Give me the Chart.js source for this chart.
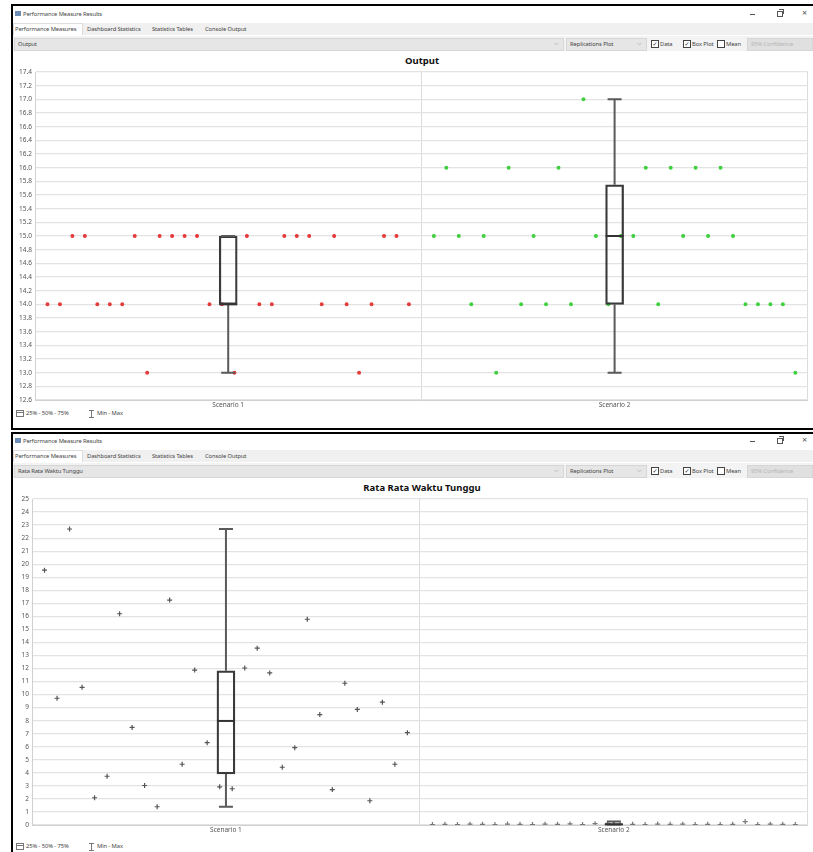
<!DOCTYPE html>
<html><head><meta charset="utf-8">
<script src="https://cdn.jsdelivr.net/npm/chart.js@4.4.0/dist/chart.umd.min.js"></script>
<style>
body{margin:0;width:813px;height:852px;position:relative;overflow:hidden;background:#fff;font-family:"Noto Sans","DejaVu Sans",sans-serif;color:#444}
.abs{position:absolute;white-space:nowrap}
.t{font-size:5.8px;line-height:8px;letter-spacing:-0.1px}
.bar{position:absolute;background:#f0f0f0}
.combo{position:absolute;background:#e6e6e6;border:1px solid #d6d6d6;height:11px}
.chk{position:absolute;width:6px;height:6px;border:1px solid #444;background:#fff;font-size:6px;line-height:6px;text-align:center;color:#222}
.ttl{position:absolute;font-weight:bold;font-size:9.5px;line-height:11px;color:#111;transform:translateX(-50%);white-space:nowrap}
canvas{position:absolute}
</style></head>
<body>
<div class="abs" style="left:11px;top:4px;width:802px;height:422px;border-left:2px solid #000;border-top:2px solid #000;border-bottom:2px solid #000"></div>
<div class="abs" style="left:11px;top:432px;width:802px;height:430px;border-left:2px solid #000;border-top:2px solid #000"></div>
<div id="chrome"></div>
<canvas id="c1" style="left:12px;top:52px" width="801" height="357"></canvas>
<canvas id="c2" style="left:12px;top:479px" width="801" height="355"></canvas>
<script>
// ---------- DATA ----------
const categories = ['Scenario 1', 'Scenario 2'];

// Chart 1: Output (30 replications per scenario)
const outputScenario1 = [14,14,15,15,14,14,14,15,13,15,15,15,15,14,14,13,15,14,14,15,15,15,14,15,14,13,14,15,15,14];
const outputScenario2 = [15,16,15,14,15,13,16,14,15,14,16,14,17,15,14,15,15,16,14,16,15,16,15,16,15,14,14,14,14,13];
const outputMin    = [13, 13];
const outputQ1     = [14, 14];
const outputMedian = [14, 15];
const outputQ3     = [15, 15.75];
const outputMax    = [15, 17];
const outputAxis   = {min: 12.6, max: 17.4, step: 0.2};

// Chart 2: Rata Rata Waktu Tunggu
const waitScenario1 = [19.54,9.72,22.7,10.56,2.09,3.74,16.2,7.48,3.03,1.40,17.25,4.66,11.88,6.31,2.93,2.78,12.04,13.56,11.66,4.43,5.93,15.78,8.47,2.72,10.87,8.86,1.86,9.42,4.66,7.08];
const waitScenario2 = [0.04,0.05,0.03,0.06,0.05,0.04,0.07,0.05,0.03,0.06,0.05,0.08,0.04,0.10,0.12,0.06,0.05,0.04,0.07,0.05,0.06,0.04,0.05,0.03,0.05,0.26,0.04,0.06,0.05,0.04];
const waitMin    = [1.40, 0.03];
const waitQ1     = [3.91, 0.04];
const waitMedian = [7.98, 0.05];
const waitQ3     = [11.83, 0.065];
const waitMax    = [22.7, 0.26];
const waitAxis   = {min: 0, max: 25, step: 1};

// ---------- CHROME ----------
function chrome(oy, comboText, chartTitle, legendY){
  let h = '';
  h += `<div class="abs" style="left:15px;top:${oy+11}px;width:6px;height:5px;background:#6b8cb5"></div>`;
  h += `<div class="abs t" style="left:23px;top:${oy+10}px">Performance Measure Results</div>`;
  h += `<div class="abs" style="left:750px;top:${oy+14}px;width:5px;height:1px;background:#555"></div>`;
  h += `<div class="abs" style="left:777px;top:${oy+11}px;width:4px;height:4px;border:1px solid #555"></div>`;
  h += `<div class="abs" style="left:779px;top:${oy+9}px;width:4px;height:4px;border-top:1px solid #555;border-right:1px solid #555"></div>`;
  h += `<div class="abs" style="left:802px;top:${oy+8}px;font-size:9px;line-height:10px;color:#555">×</div>`;
  h += `<div class="bar" style="left:13px;top:${oy+23}px;width:800px;height:12px"></div>`;
  h += `<div class="abs" style="left:13px;top:${oy+23}px;width:70px;height:12px;background:#fff;border:1px solid #ddd;border-bottom:none;box-sizing:border-box"></div>`;
  h += `<div class="abs t" style="left:15px;top:${oy+25}px">Performance Measures</div>`;
  h += `<div class="abs t" style="left:87px;top:${oy+25}px">Dashboard Statistics</div>`;
  h += `<div class="abs t" style="left:152px;top:${oy+25}px">Statistics Tables</div>`;
  h += `<div class="abs t" style="left:205px;top:${oy+25}px">Console Output</div>`;
  h += `<div class="bar" style="left:13px;top:${oy+36}px;width:800px;height:15px;background:#f3f3f3"></div>`;
  h += `<div class="combo" style="left:14px;top:${oy+38}px;width:548px"></div>`;
  h += `<div class="abs t" style="left:18px;top:${oy+40}px">${comboText}</div>`;
  h += `<div class="abs t" style="left:554px;top:${oy+39}px;color:#777">⌵</div>`;
  h += `<div class="combo" style="left:566px;top:${oy+38}px;width:79px"></div>`;
  h += `<div class="abs t" style="left:570px;top:${oy+40}px">Replications Plot</div>`;
  h += `<div class="abs t" style="left:637px;top:${oy+39}px;color:#777">⌵</div>`;
  h += `<div class="chk" style="left:651px;top:${oy+40}px">✓</div>`;
  h += `<div class="abs t" style="left:660px;top:${oy+40}px">Data</div>`;
  h += `<div class="chk" style="left:683px;top:${oy+40}px">✓</div>`;
  h += `<div class="abs t" style="left:692px;top:${oy+40}px">Box Plot</div>`;
  h += `<div class="chk" style="left:717px;top:${oy+40}px"></div>`;
  h += `<div class="abs t" style="left:726px;top:${oy+40}px">Mean</div>`;
  h += `<div class="combo" style="left:747px;top:${oy+38}px;width:64px;background:#e0e0e0"></div>`;
  h += `<div class="abs t" style="left:751px;top:${oy+40}px;color:#b5b5b5">95% Confidence</div>`;
  h += `<div class="ttl" style="left:422px;top:${oy+55}px">${chartTitle}</div>`;
  h += `<div class="abs" style="left:16px;top:${legendY-3}px;width:6px;height:5px;border:1px solid #777"></div>`;
  h += `<div class="abs" style="left:17px;top:${legendY-1}px;width:6px;height:1px;background:#777"></div>`;
  h += `<div class="abs t" style="left:26px;top:${legendY-4}px">25% - 50% - 75%</div>`;
  h += `<div class="abs" style="left:89px;top:${legendY-3}px;width:5px;height:1px;background:#777"></div>`;
  h += `<div class="abs" style="left:91px;top:${legendY-3}px;width:1px;height:7px;background:#777"></div>`;
  h += `<div class="abs" style="left:89px;top:${legendY+4}px;width:5px;height:1px;background:#777"></div>`;
  h += `<div class="abs t" style="left:97px;top:${legendY-4}px">Min - Max</div>`;
  return h;
}
document.getElementById('chrome').innerHTML =
  chrome(0, 'Output', 'Output', 413) + chrome(427, 'Rata Rata Waktu Tunggu', 'Rata Rata Waktu Tunggu', 846);

// ---------- CHARTS ----------
const boxPlugin = {
  id: 'boxWhiskers',
  afterDatasetsDraw(chart, args, opts) {
    const ctx = chart.ctx, xs = chart.scales.x, ys = chart.scales.y;
    ctx.save();
    for (let i = 0; i < opts.min.length; i++) {
      const x = xs.getPixelForValue(i);
      const yMin = ys.getPixelForValue(opts.min[i]), yQ1 = ys.getPixelForValue(opts.q1[i]);
      const yQ3 = ys.getPixelForValue(opts.q3[i]), yMax = ys.getPixelForValue(opts.max[i]);
      const yMed = ys.getPixelForValue(opts.median[i]);
      ctx.strokeStyle = '#5a5a5a'; ctx.lineWidth = 2;
      ctx.beginPath();
      ctx.moveTo(x, yQ1); ctx.lineTo(x, yMin);
      ctx.moveTo(x, yQ3); ctx.lineTo(x, yMax);
      ctx.moveTo(x - 7, yMin); ctx.lineTo(x + 7, yMin);
      ctx.moveTo(x - 7, yMax); ctx.lineTo(x + 7, yMax);
      ctx.stroke();
      ctx.strokeStyle = '#333'; ctx.lineWidth = 2;
      ctx.beginPath(); ctx.moveTo(x - 9, yMed); ctx.lineTo(x + 9, yMed); ctx.stroke();
    }
    ctx.restore();
  }
};

function pts(values, cat) {
  return values.map((v, i) => ({x: cat + (i + 1) / (values.length + 1), y: v}));
}

function makeChart(id, s1, s2, c1, c2, ptStyle, ptRadius, ax, stats, fmt, padTop) {
  new Chart(document.getElementById(id), {
    type: 'bar',
    data: {
      labels: categories,
      datasets: [
        {type: 'bar', data: stats.q1.map((q, i) => [q, stats.q3[i]]), xAxisID: 'x', yAxisID: 'y',
         backgroundColor: 'rgba(0,0,0,0)', borderColor: '#3a3a3a', borderWidth: 1.6, borderSkipped: false,
         barThickness: 18, grouped: false},
        {type: 'scatter', data: pts(s1, 0), xAxisID: 'x2', yAxisID: 'y', pointStyle: ptStyle,
         pointRadius: ptRadius, backgroundColor: c1, borderColor: c1, borderWidth: 1.2},
        {type: 'scatter', data: pts(s2, 1), xAxisID: 'x2', yAxisID: 'y', pointStyle: ptStyle,
         pointRadius: ptRadius, backgroundColor: c2, borderColor: c2, borderWidth: 1.2}
      ]
    },
    options: {
      responsive: false, animation: false, events: [],
      layout: {padding: {top: padTop, right: 3, left: 0, bottom: 0}},
      plugins: {legend: {display: false}, tooltip: {enabled: false}, boxWhiskers: stats},
      scales: {
        x: {type: 'category', offset: true,
            grid: {offset: true, color: '#dcdcdc', lineWidth: 1, drawTicks: false},
            border: {color: '#d0d0d0'},
            ticks: {padding: 1, color: '#555', font: {size: 6.5, family: 'Noto Sans'}},
            afterFit(s) { s.height = 9; }},
        x2: {type: 'linear', min: 0, max: 2, display: false, offset: false},
        y: {min: ax.min, max: ax.max,
            grid: {color: '#e3e3e3', lineWidth: 1.2, drawTicks: false},
            border: {color: '#d0d0d0'},
            ticks: {stepSize: ax.step, padding: 3, color: '#555', font: {size: 6.5, family: 'Noto Sans'},
                    callback: fmt},
            afterFit(s) { s.width = id === 'c1' ? 23 : 20; }}
      }
    },
    plugins: [boxPlugin]
  });
}

makeChart('c1', outputScenario1, outputScenario2, '#e43b3b', '#3fcf3f', 'circle', 1.4, outputAxis,
  {min: outputMin, q1: outputQ1, median: outputMedian, q3: outputQ3, max: outputMax},
  v => Number(v).toFixed(1), 20);
makeChart('c2', waitScenario1, waitScenario2, '#555555', '#777777', 'cross', 2.5, waitAxis,
  {min: waitMin, q1: waitQ1, median: waitMedian, q3: waitQ3, max: waitMax},
  v => String(Math.round(v)), 20);
</script>
</body></html>
